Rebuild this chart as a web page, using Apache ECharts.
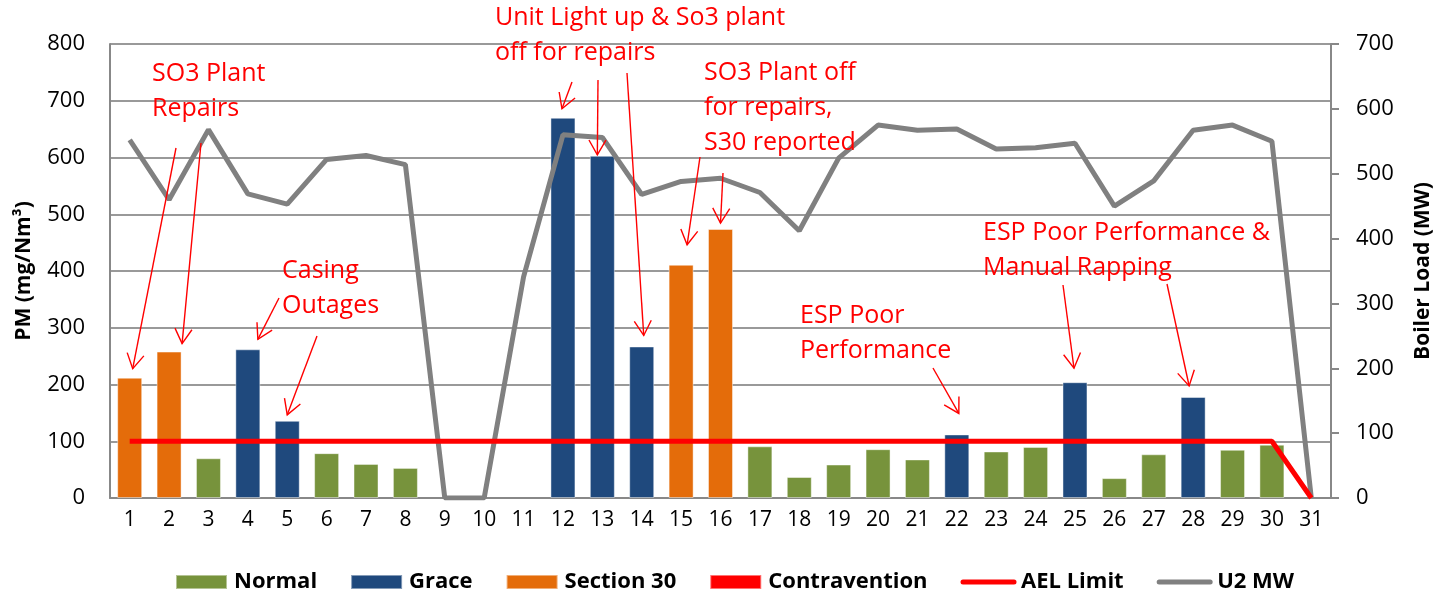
<!DOCTYPE html>
<html>
<head>
<meta charset="utf-8">
<title>PM vs Boiler Load</title>
<script src="https://cdn.jsdelivr.net/npm/echarts@6/dist/echarts.min.js"></script>
<style>
  html, body { margin: 0; padding: 0; background: #fff; }
  #chart { width: 1450px; height: 599px; }
</style>
</head>
<body>
<div id="chart"></div>
<script>
// days of the month
const days = ['1','2','3','4','5','6','7','8','9','10','11','12','13','14','15','16',
  '17','18','19','20','21','22','23','24','25','26','27','28','29','30','31'];

// PM (mg/Nm3) split by status
const normal = [null, null, 70, null, null, 79, 60, 53, null, null, null, null, null, null, null, null,
  91, 37, 59, 86, 68, null, 82, 90, null, 35, 77, null, 85, 94, null];
const grace = [null, null, null, 262, 136, null, null, null, null, null, null, 670, 603, 267, null, null,
  null, null, null, null, null, 112, null, null, 204, null, null, 178, null, null, null];
const section30 = [212, 258, null, null, null, null, null, null, null, null, null, null, null, null, 411, 474,
  null, null, null, null, null, null, null, null, null, null, null, null, null, null, null];
const contravention = [null, null, null, null, null, null, null, null, null, null, null, null, null, null, null, null,
  null, null, null, null, null, null, null, null, null, null, null, null, null, null, null];

// AEL limit (mg/Nm3) and unit 2 load (MW)
const aelLimit = [100, 100, 100, 100, 100, 100, 100, 100, 100, 100, 100, 100, 100, 100, 100, 100,
  100, 100, 100, 100, 100, 100, 100, 100, 100, 100, 100, 100, 100, 100, 0];
const u2MW = [552, 460, 568, 469, 453, 522, 528, 514, 0, 0, 341, 560, 556, 468, 488, 493,
  471, 412, 524, 575, 567, 569, 538, 540, 547, 450, 489, 567, 575, 550, 0];

const FONT = 'Open Sans';
const RED = '#FF0000';
const GRID_GREY = '#999999';

// annotation texts (top-left in px)
const notes = [
  { text: 'SO3 Plant\nRepairs', x: 152, y: 56 },
  { text: 'Unit Light up & So3 plant\noff for repairs', x: 495, y: 0 },
  { text: 'Casing\nOutages', x: 282, y: 253 },
  { text: 'SO3 Plant off\nfor repairs,\nS30 reported', x: 704, y: 55 },
  { text: 'ESP Poor\nPerformance', x: 800, y: 298 },
  { text: 'ESP Poor Performance &\nManual Rapping', x: 983, y: 215 }
];

// arrows: tail in px, tip just above the bar of the given day
const arrows = [
  { day: '1', from: [176, 148], dx: 3, gap: 9 },
  { day: '2', from: [201, 143], dx: 13, gap: 8 },
  { day: '4', from: [279, 298], dx: 10, gap: 10 },
  { day: '5', from: [317, 336], dx: 0, gap: 6 },
  { day: '12', from: [572, 82], dx: -1, gap: 9 },
  { day: '13', from: [598, 80], dx: -5, gap: 1 },
  { day: '14', from: [627, 73], dx: 2, gap: 11 },
  { day: '15', from: [700, 157], dx: 6, gap: 20 },
  { day: '16', from: [723, 173], dx: 0, gap: 6 },
  { day: '22', from: [933, 368], dx: 2, gap: 21 },
  { day: '25', from: [1063, 285], dx: -1, gap: 14 },
  { day: '28', from: [1167, 284], dx: -4, gap: 11 }
];

function barSeries(name, data, color) {
  return {
    name: name,
    type: 'bar',
    stack: 'pm',
    yAxisIndex: 0,
    barWidth: 25,
    data: data,
    itemStyle: { color: color, borderColor: 'rgba(255,255,255,0.45)', borderWidth: 1 }
  };
}

let option = {
  animation: false,
  textStyle: { fontFamily: FONT },
  grid: { left: 110, right: 119, top: 44, bottom: 101 },
  legend: {
    data: [
      { name: 'Normal', icon: 'rect' },
      { name: 'Grace', icon: 'rect' },
      { name: 'Section 30', icon: 'rect' },
      { name: 'Contravention', icon: 'rect' },
      { name: 'AEL Limit', itemStyle: { opacity: 0 }, lineStyle: { width: 5, cap: 'round' } },
      { name: 'U2 MW', itemStyle: { opacity: 0 }, lineStyle: { width: 5, cap: 'round' } }
    ],
    left: 175,
    top: 571,
    padding: 0,
    itemWidth: 51,
    itemHeight: 14,
    itemGap: 33,
    textStyle: { fontFamily: FONT, fontSize: 22, fontWeight: 'bold', color: '#000', padding: [0, 0, 0, 2] }
  },
  xAxis: {
    type: 'category',
    data: days,
    axisLine: { lineStyle: { color: '#888', width: 2 } },
    axisTick: { show: false },
    axisLabel: { color: '#000', fontSize: 21, margin: 12, fontFamily: FONT }
  },
  yAxis: [
    {
      type: 'value',
      min: 0,
      max: 800,
      interval: 100,
      name: 'PM (mg/Nm³)',
      nameLocation: 'middle',
      nameGap: 75,
      nameTextStyle: { fontSize: 21, fontWeight: 'bold', color: '#000', fontFamily: FONT },
      axisLine: { show: true, lineStyle: { color: '#888', width: 2 } },
      axisTick: { show: false },
      axisLabel: { color: '#000', fontSize: 22, margin: 25, fontFamily: FONT },
      splitLine: { show: true, lineStyle: { color: GRID_GREY, width: 2 } }
    },
    {
      type: 'value',
      min: 0,
      max: 700,
      interval: 100,
      position: 'right',
      name: 'Boiler Load (MW)',
      nameLocation: 'middle',
      nameGap: 82,
      nameTextStyle: { fontSize: 21, fontWeight: 'bold', color: '#000', fontFamily: FONT },
      axisLine: { show: true, lineStyle: { color: '#888', width: 2 } },
      axisTick: { show: true, length: 8, lineStyle: { color: '#888', width: 2 } },
      axisLabel: { color: '#000', fontSize: 22, margin: 25, fontFamily: FONT },
      splitLine: { show: false }
    }
  ],
  series: [
    barSeries('Normal', normal, '#77933C'),
    barSeries('Grace', grace, '#1F497D'),
    barSeries('Section 30', section30, '#E46C0A'),
    barSeries('Contravention', contravention, RED),
    {
      name: 'U2 MW',
      type: 'line',
      yAxisIndex: 1,
      data: u2MW,
      symbol: 'none',
      color: '#808080',
      lineStyle: { color: '#808080', width: 5 },
      z: 3
    },
    {
      name: 'AEL Limit',
      type: 'line',
      yAxisIndex: 0,
      data: aelLimit,
      symbol: 'none',
      color: RED,
      lineStyle: { color: RED, width: 5 },
      z: 4
    }
  ]
};

let chartDom = document.getElementById('chart');
let myChart = echarts.init(chartDom);
myChart.setOption(option);

// annotations drawn on top, arrow tips tied to the bars
function pmOf(i) {
  if (normal[i] != null) return normal[i];
  if (grace[i] != null) return grace[i];
  if (section30[i] != null) return section30[i];
  return 0;
}

let elements = [];
notes.forEach(function (n) {
  elements.push({
    type: 'text',
    left: n.x,
    top: n.y,
    z: 100,
    style: { text: n.text, fill: RED, font: '25px "' + FONT + '"', lineHeight: 35 }
  });
});

arrows.forEach(function (a) {
  const i = days.indexOf(a.day);
  const p = myChart.convertToPixel({ seriesIndex: 0 }, [a.day, pmOf(i)]);
  const tip = [p[0] + a.dx, p[1] - a.gap];
  const ang = Math.atan2(a.from[1] - tip[1], a.from[0] - tip[0]);
  const len = 17, spread = Math.PI / 6;
  const h1 = [tip[0] + len * Math.cos(ang + spread), tip[1] + len * Math.sin(ang + spread)];
  const h2 = [tip[0] + len * Math.cos(ang - spread), tip[1] + len * Math.sin(ang - spread)];
  elements.push({
    type: 'line',
    z: 100,
    shape: { x1: a.from[0], y1: a.from[1], x2: tip[0], y2: tip[1] },
    style: { stroke: RED, lineWidth: 1.4 }
  });
  elements.push({
    type: 'polyline',
    z: 100,
    shape: { points: [h1, tip, h2] },
    style: { stroke: RED, lineWidth: 1.4, fill: null }
  });
});

myChart.setOption({ graphic: elements });

window.onresize = function () {
  myChart.resize();
};
</script>
</body>
</html>
